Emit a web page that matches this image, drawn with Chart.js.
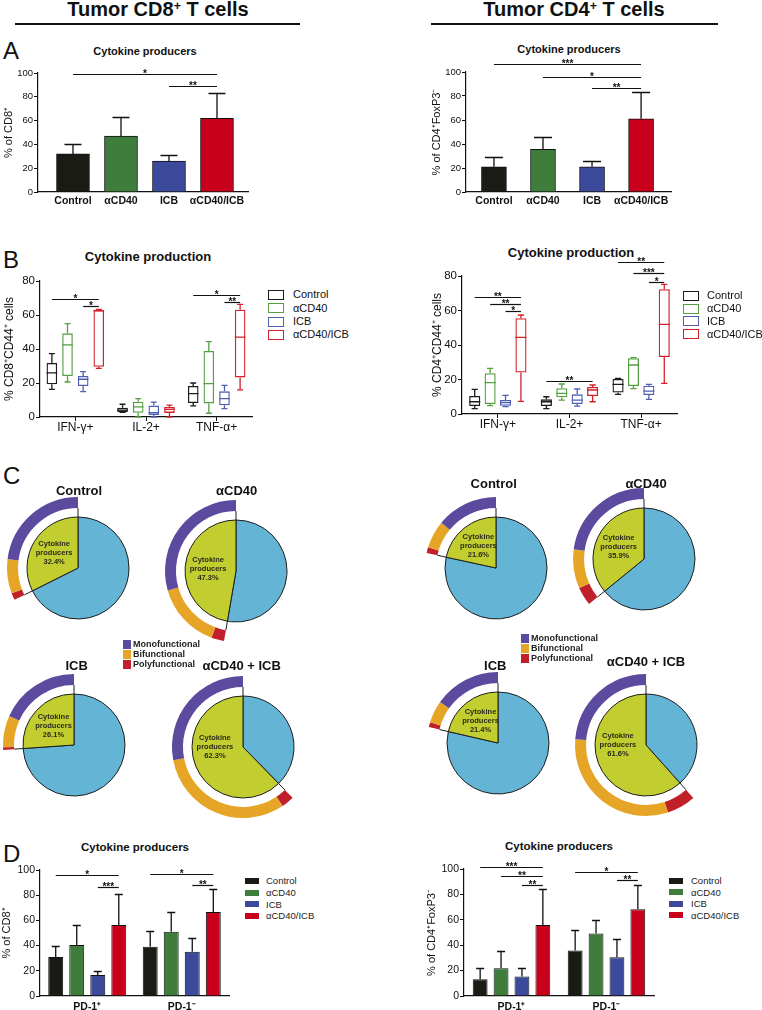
<!DOCTYPE html>
<html>
<head>
<meta charset="utf-8">
<title>Tumor CD8+ and CD4+ T cells - cytokine production</title>
<script src="https://cdn.jsdelivr.net/npm/chart.js@4.4.1/dist/chart.umd.min.js"></script>
<style>
  html, body { margin: 0; padding: 0; background: #fff; }
  body { font-family: "Liberation Sans", Arial, Helvetica, sans-serif; color: #111; }
  #page { position: relative; width: 762px; height: 1010px; overflow: hidden; }
  canvas { position: absolute; }
  .lbl { position: absolute; line-height: 1; white-space: nowrap; }
  .c { transform: translateX(-50%); }
  .b { font-weight: bold; }
  .rule { position: absolute; height: 2px; background: #111; }
  .legend { position: absolute; }
  .legend .row { display: flex; align-items: center; white-space: nowrap; }
  .sup { font-size: 0.62em; position: relative; top: -0.55em; }
</style>
</head>
<body>
<div id="page">
  <!-- column headers -->
  <div class="lbl c b" style="left:158px;top:-0.6px;font-size:20px">Tumor CD8<span class="sup">+</span> T cells</div>
  <div class="rule" style="left:15px;top:23px;width:285px"></div>
  <div class="lbl c b" style="left:574px;top:-0.6px;font-size:20px">Tumor CD4<span class="sup">+</span> T cells</div>
  <div class="rule" style="left:431px;top:23px;width:287px"></div>

  <!-- panel letters -->
  <div class="lbl" style="left:3px;top:38.6px;font-size:24px">A</div>
  <div class="lbl" style="left:3px;top:247.7px;font-size:24px">B</div>
  <div class="lbl" style="left:3px;top:463.7px;font-size:24px">C</div>
  <div class="lbl" style="left:3px;top:841.7px;font-size:24px">D</div>
</div>

<script>
// ---------------- data ----------------
const groups = ['Control', 'αCD40', 'ICB', 'αCD40/ICB'];
const cytokines = ['IFN-γ+', 'IL-2+', 'TNF-α+'];
const pdLabels = ['PD-1⁺', 'PD-1⁻'];
const pieNames = ['Control', 'αCD40', 'ICB', 'αCD40 + ICB'];
const funcNames = ['Monofunctional', 'Bifunctional', 'Polyfunctional'];

// A - cytokine producers (mean and top of SD bar)
const cd8ProdMean = [32, 47, 26, 62];
const cd8ProdErr = [40, 63, 31, 83];
const cd4ProdMean = [21, 35.5, 21, 61];
const cd4ProdErr = [29, 46, 26, 83.5];
// [from group, to group, height, stars]
const cd8ProdSig = [[0, 3, 99, '*'], [2, 3, 89, '**']];
const cd4ProdSig = [[0, 3, 107, '***'], [1, 3, 96, '*'], [2, 3, 87, '**']];

// B - box plots, per cytokine [min, q1, median, q3, max]
const cd8BoxControl = [[16.3, 19.2, 26, 31.8, 37.3], [2.7, 3, 4, 5.5, 7.5], [6.5, 8.2, 13.7, 18.2, 20]];
const cd8BoxCD40 = [[20.6, 24.1, 42.4, 49.2, 54.9], [0, 2.5, 5.9, 9, 10.8], [2.2, 8, 19.6, 38.8, 44.3]];
const cd8BoxICB = [[14.9, 18.2, 22.2, 24.1, 26.7], [0, 1.2, 2.5, 6.7, 8.8], [4.9, 6.9, 10.8, 15.1, 18.6]];
const cd8BoxCombo = [[28.6, 29.6, 62.5, 63, 63.3], [0, 2.4, 4.5, 5.9, 7], [15.9, 23.3, 47, 63.1, 66.3]];
const cd4BoxControl = [[3.1, 4.6, 7.1, 10.4, 14.3], [3.1, 4.6, 7.1, 8.5, 10], [11.4, 12.4, 17.2, 20.3, 20.7]];
const cd4BoxCD40 = [[4.8, 5.8, 18.2, 23.6, 26.5], [8.1, 9.7, 12, 14.9, 17.4], [14.7, 16.2, 28.4, 32.3, 32.7]];
const cd4BoxICB = [[4.3, 4.8, 6.6, 8.1, 10.8], [4.6, 5.8, 8.1, 11.4, 14.5], [8.5, 11, 13.3, 16.4, 17.2]];
const cd4BoxCombo = [[7.3, 24, 44.4, 55.5, 57.4], [7.1, 10.4, 13.9, 15.7, 16.8], [17.8, 33, 52, 72.3, 75.2]];
// [cytokine, from group, to group, height, stars]
const cd8BoxSig = [[0, 0, 3, 69.2, '*'], [0, 2, 3, 65.5, '*'], [2, 0, 3, 71.8, '*'], [2, 2, 3, 67.8, '**']];
const cd4BoxSig = [[0, 0, 3, 68, '**'], [0, 1, 3, 63.8, '**'], [0, 2, 3, 59.9, '*'], [1, 0, 3, 19.3, '**'],
                   [2, 0, 3, 88.3, '**'], [2, 1, 3, 81.5, '***'], [2, 2, 3, 76.7, '*']];

// C - % producers and their split (mono / bi / poly), order: Control, aCD40, ICB, aCD40+ICB
const cd8Producers = [32.4, 47.3, 26.1, 62.3];
const cd8Mono = [23.0, 29.4, 18.3, 28.0];
const cd8Bi = [7.8, 15.0, 7.2, 31.4];
const cd8Poly = [1.6, 2.9, 0.6, 2.9];
const cd4Producers = [21.6, 35.9, 21.4, 61.6];
const cd4Mono = [14.0, 22.8, 15.2, 23.7];
const cd4Bi = [6.3, 8.9, 5.1, 31.3];
const cd4Poly = [1.3, 4.2, 1.1, 6.6];

// D - producers split by PD-1 status [PD-1+, PD-1-]
const cd8PdControl = [31, 39], cd8PdCD40 = [40.5, 51], cd8PdICB = [16.7, 35.2], cd8PdCombo = [56.3, 66.7];
const cd8PdControlErr = [40, 51.6], cd8PdCD40Err = [56.3, 66.9], cd8PdICBErr = [19.8, 45.8], cd8PdComboErr = [81, 85];
const cd4PdControl = [13.2, 35.8], cd4PdCD40 = [21.8, 49.2], cd4PdICB = [15.3, 30.5], cd4PdCombo = [56, 68.4];
const cd4PdControlErr = [21.8, 51.6], cd4PdCD40Err = [35.5, 60], cd4PdICBErr = [22.4, 44.7], cd4PdComboErr = [84.2, 87.4];
const cd8PdSig = [[0, 0, 3, 96, '*'], [0, 2, 3, 86.8, '***'], [1, 0, 3, 96.6, '*'], [1, 2, 3, 87.8, '**']];
const cd4PdSig = [[0, 0, 3, 101.6, '***'], [0, 1, 3, 94.2, '**'], [0, 2, 3, 87.4, '**'], [1, 0, 3, 97.6, '*'], [1, 2, 3, 91, '**']];

// ---------------- styles ----------------
const FONT = '"Liberation Sans", Arial, Helvetica, sans-serif';
const fillColors = ['#1b1b15', '#3f7d3d', '#3c4a9c', '#c8001b'];
const boxColors = ['#1b1b1b', '#55a043', '#4f5fb3', '#d5202b'];
const pieColors = ['#64b4d6', '#c2cd2f'];          // non-producers, producers
const funcColors = ['#5b4a9e', '#e6a526', '#c11f29']; // mono, bi, poly

Chart.defaults.font.family = FONT;
Chart.defaults.color = '#111';
Chart.defaults.animation = false;

const page = document.getElementById('page');

function addCanvas(x, y, w, h) {
  const c = document.createElement('canvas');
  c.width = w; c.height = h;
  c.style.left = x + 'px'; c.style.top = y + 'px';
  page.appendChild(c);
  return c;
}

function addText(html, x, yMid, size, bold) {
  const d = document.createElement('div');
  d.className = 'lbl c' + (bold ? ' b' : '');
  d.style.left = x + 'px';
  d.style.top = (yMid - 0.49 * size) + 'px';
  d.style.fontSize = size + 'px';
  d.innerHTML = html;
  page.appendChild(d);
}

function addLegend(x, top, rowH, names, colors, st) {
  const wrap = document.createElement('div');
  wrap.className = 'legend';
  wrap.style.left = x + 'px'; wrap.style.top = top + 'px';
  names.forEach((n, i) => {
    const row = document.createElement('div');
    row.className = 'row';
    row.style.height = rowH + 'px';
    const sw = document.createElement('span');
    sw.style.cssText = 'display:inline-block;box-sizing:border-box;flex:none;width:' + st.w + 'px;height:' + st.h +
      'px;margin-right:' + st.gap + 'px;' +
      (st.outline ? 'border:1.6px solid ' + colors[i] + ';background:#fff' : 'background:' + colors[i]);
    const tx = document.createElement('span');
    tx.textContent = n;
    tx.style.cssText = 'line-height:1;color:' + st.color + ';font-size:' + st.size + 'px;font-weight:' + (st.bold ? 'bold' : 'normal');
    row.appendChild(sw); row.appendChild(tx);
    wrap.appendChild(row);
  });
  page.appendChild(wrap);
}

// ---------------- plugins ----------------
// significance brackets: [dsFrom, idxFrom, dsTo, idxTo, height, stars]
function sigPlugin(lines) {
  return {
    id: 'sig',
    afterDatasetsDraw(chart) {
      const ctx = chart.ctx, y = chart.scales.y;
      lines.forEach(s => {
        const x1 = chart.getDatasetMeta(s[0]).data[s[1]].x;
        const x2 = chart.getDatasetMeta(s[2]).data[s[3]].x;
        const py = Math.round(y.getPixelForValue(s[4])) + 0.5;
        ctx.save();
        ctx.strokeStyle = '#111';
        ctx.lineWidth = 1.2;
        ctx.beginPath(); ctx.moveTo(x1, py); ctx.lineTo(x2, py); ctx.stroke();
        ctx.fillStyle = '#111';
        ctx.font = 'bold 10px ' + FONT;
        ctx.textAlign = 'center';
        ctx.textBaseline = 'alphabetic';
        ctx.fillText(s[5], (x1 + x2) / 2, py + 2);
        ctx.restore();
      });
    }
  };
}

// upper SD bars, read from dataset.errTop
function errorBarPlugin(cap) {
  return {
    id: 'errBars',
    afterDatasetsDraw(chart) {
      const ctx = chart.ctx, y = chart.scales.y;
      chart.data.datasets.forEach((ds, d) => {
        if (!ds.errTop) return;
        chart.getDatasetMeta(d).data.forEach((bar, i) => {
          const top = Math.round(y.getPixelForValue(ds.errTop[i])) + 0.5;
          ctx.save();
          ctx.strokeStyle = '#111';
          ctx.lineWidth = 1.3;
          ctx.beginPath();
          ctx.moveTo(bar.x, bar.y); ctx.lineTo(bar.x, top);
          ctx.moveTo(bar.x - cap / 2, top); ctx.lineTo(bar.x + cap / 2, top);
          ctx.stroke();
          ctx.restore();
        });
      });
    }
  };
}

// whiskers + median for the floating-bar boxes, read from dataset.stats
const whiskerPlugin = {
  id: 'whiskers',
  afterDatasetsDraw(chart) {
    const ctx = chart.ctx, y = chart.scales.y;
    chart.data.datasets.forEach((ds, d) => {
      chart.getDatasetMeta(d).data.forEach((bar, i) => {
        const st = ds.stats[i];
        const half = bar.width / 2, cap = bar.width * 0.28;
        const pMin = y.getPixelForValue(st[0]), pQ1 = y.getPixelForValue(st[1]);
        const pMed = y.getPixelForValue(st[2]), pQ3 = y.getPixelForValue(st[3]);
        const pMax = y.getPixelForValue(st[4]);
        ctx.save();
        ctx.strokeStyle = ds.borderColor;
        ctx.lineWidth = 1.3;
        ctx.beginPath();
        ctx.moveTo(bar.x - half, pMed); ctx.lineTo(bar.x + half, pMed);
        ctx.moveTo(bar.x, pQ3); ctx.lineTo(bar.x, pMax);
        ctx.moveTo(bar.x - cap, pMax); ctx.lineTo(bar.x + cap, pMax);
        ctx.moveTo(bar.x, pQ1); ctx.lineTo(bar.x, pMin);
        ctx.moveTo(bar.x - cap, pMin); ctx.lineTo(bar.x + cap, pMin);
        ctx.stroke();
        ctx.restore();
      });
    });
  }
};

// divider lines through the gap and the "Cytokine producers" label
function pieExtras(prod) {
  return {
    id: 'pieExtras',
    afterDatasetsDraw(chart) {
      const ctx = chart.ctx;
      const green = chart.getDatasetMeta(2).data[1];
      const reach = chart.getDatasetMeta(0).data[0].innerRadius;
      const {x, y, startAngle, endAngle, outerRadius} = green;
      ctx.save();
      ctx.strokeStyle = '#1d1d1d';
      ctx.lineWidth = 1;
      ctx.beginPath();
      [startAngle, endAngle].forEach(a => {
        ctx.moveTo(x + outerRadius * Math.cos(a), y + outerRadius * Math.sin(a));
        ctx.lineTo(x + reach * Math.cos(a), y + reach * Math.sin(a));
      });
      ctx.stroke();
      const mid = Math.max((startAngle + endAngle) / 2, Math.PI);
      const lx = x + outerRadius * 0.55 * Math.cos(mid);
      const ly = y + outerRadius * 0.55 * Math.sin(mid);
      ctx.fillStyle = '#2b2b1c';
      ctx.font = 'bold 7.5px ' + FONT;
      ctx.textAlign = 'center';
      ctx.textBaseline = 'middle';
      ['Cytokine', 'producers', prod.toFixed(1) + '%'].forEach((t, k) => ctx.fillText(t, lx, ly + (k - 1) * 9));
      ctx.restore();
    }
  };
}

// ---------------- builders ----------------
function yScale(max, title, width, tickSize, titleSize, titlePad) {
  return {
    min: 0, max: max,
    afterFit: s => { s.width = width; },
    ticks: { stepSize: 20, color: '#111', font: { size: tickSize }, padding: 1 },
    grid: { drawOnChartArea: false, drawTicks: true, tickLength: 4, color: '#111', lineWidth: 1 },
    border: { color: '#111', width: 1.2 },
    title: { display: true, text: title, color: '#111', font: { size: titleSize }, padding: { top: titlePad, bottom: 0 } }
  };
}

// panel A
function producerChart(box, means, errs, sig, o) {
  const cv = addCanvas(box[0], box[1], box[2], box[3]);
  new Chart(cv, {
    type: 'bar',
    data: {
      datasets: [{
        data: means.map((v, i) => ({ x: i + 1, y: v })),
        errTop: errs,
        backgroundColor: fillColors,
        borderColor: '#111',
        borderWidth: 1,
        barThickness: o.barW
      }]
    },
    options: {
      responsive: false, events: [],
      layout: { padding: o.pad },
      scales: {
        x: {
          type: 'linear', min: o.xmin, max: o.xmax, offset: false, bounds: 'data',
          afterBuildTicks: s => { s.ticks = groups.map((g, i) => ({ value: i + 1 })); },
          afterFit: s => { s.height = 18; },
          ticks: { autoSkip: false, maxRotation: 0, padding: 3, color: '#111',
                   font: { size: 10.5, weight: 'bold' }, callback: v => groups[v - 1] },
          grid: { display: false, drawTicks: false, tickLength: 0 },
          border: { color: '#111', width: 1.2 }
        },
        y: yScale(100, o.yTitle, o.yw, 9.5, 11, 2)
      },
      plugins: { legend: { display: false }, tooltip: { enabled: false } }
    },
    plugins: [errorBarPlugin(o.cap), sigPlugin(sig.map(s => [0, s[0], 0, s[1], s[2], s[3]]))]
  });
}

// panel B
function boxChart(box, stats, sig, o) {
  const cv = addCanvas(box[0], box[1], box[2], box[3]);
  new Chart(cv, {
    type: 'bar',
    data: {
      labels: cytokines,
      datasets: groups.map((g, gi) => ({
        label: g,
        data: stats[gi].map(s => [s[1], s[3]]),
        stats: stats[gi],
        backgroundColor: 'rgba(255,255,255,0)',
        borderColor: boxColors[gi],
        borderWidth: 1.3,
        borderSkipped: false,
        categoryPercentage: o.catPct,
        barPercentage: o.barPct
      }))
    },
    options: {
      responsive: false, events: [],
      layout: { padding: o.pad },
      scales: {
        x: {
          offset: true,
          afterFit: s => { s.height = 20; },
          ticks: { color: '#111', font: { size: 12 }, padding: -1, maxRotation: 0, autoSkip: false },
          grid: { offset: false, drawOnChartArea: false, tickLength: 4, color: '#111' },
          border: { color: '#111', width: 1.2 }
        },
        y: yScale(80, o.yTitle, o.yw, 11.5, 12, 2)
      },
      plugins: { legend: { display: false }, tooltip: { enabled: false } }
    },
    plugins: [whiskerPlugin, sigPlugin(sig.map(s => [s[1], s[0], s[2], s[0], s[3], s[4]]))]
  });
}

// panel D
function pdChart(box, means, errs, sig, o) {
  const cv = addCanvas(box[0], box[1], box[2], box[3]);
  new Chart(cv, {
    type: 'bar',
    data: {
      labels: pdLabels,
      datasets: groups.map((g, gi) => ({
        label: g,
        data: means[gi],
        errTop: errs[gi],
        backgroundColor: fillColors[gi],
        borderColor: '#111',
        borderWidth: 1,
        categoryPercentage: o.catPct,
        barPercentage: o.barPct
      }))
    },
    options: {
      responsive: false, events: [],
      layout: { padding: o.pad },
      scales: {
        x: {
          offset: true,
          afterFit: s => { s.height = 14; },
          ticks: { color: '#111', font: { size: 10.5, weight: 'bold' }, padding: 4.5, maxRotation: 0 },
          grid: { display: false, drawTicks: false, tickLength: 0 },
          border: { color: '#111', width: 1.2 }
        },
        y: yScale(100, o.yTitle, o.yw, 10.5, 11, 0)
      },
      plugins: { legend: { display: false }, tooltip: { enabled: false } }
    },
    plugins: [errorBarPlugin(8), sigPlugin(sig.map(s => [s[1], s[0], s[2], s[0], s[3], s[4]]))]
  });
}

// panel C
function pieChart(cx, cy, prod, mono, bi, poly) {
  const cv = addCanvas(cx - 80, cy - 80, 160, 160);
  new Chart(cv, {
    type: 'doughnut',
    data: {
      datasets: [
        { data: [100 - prod, poly, bi, mono], backgroundColor: ['rgba(0,0,0,0)', funcColors[2], funcColors[1], funcColors[0]],
          borderWidth: 0, weight: 11 },
        { data: [1], backgroundColor: 'rgba(0,0,0,0)', borderWidth: 0, weight: 9 },
        { data: [100 - prod, prod], backgroundColor: pieColors, borderColor: '#1d1d1d', borderWidth: 1, weight: 51 }
      ]
    },
    options: {
      responsive: false, events: [],
      radius: 71, cutout: 0, rotation: 0,
      plugins: { legend: { display: false }, tooltip: { enabled: false } }
    },
    plugins: [pieExtras(prod)]
  });
}

// ---------------- panel A ----------------
addText('Cytokine producers', 145, 51.3, 11, true);
addText('Cytokine producers', 569, 49.7, 11, true);
producerChart([0, 55, 260, 155], cd8ProdMean, cd8ProdErr, cd8ProdSig,
  { yTitle: '% of CD8⁺', yw: 38, pad: { left: 0, right: 12, top: 18, bottom: 0 },
    xmin: 0.271, xmax: 4.646, barW: 33, cap: 17 });
producerChart([428, 50, 252, 160], cd4ProdMean, cd4ProdErr, cd4ProdSig,
  { yTitle: '% of CD4⁺FoxP3⁻', yw: 38, pad: { left: 0, right: 9, top: 22, bottom: 0 },
    xmin: 0.43, xmax: 4.61, barW: 25, cap: 18 });

// ---------------- panel B ----------------
addText('Cytokine production', 148, 256.7, 13, true);
addText('Cytokine production', 571, 252.7, 13, true);
boxChart([0, 262, 256, 175], [cd8BoxControl, cd8BoxCD40, cd8BoxICB, cd8BoxCombo], cd8BoxSig,
  { yTitle: '% CD8⁺CD44⁺ cells', yw: 40, pad: { left: 0, right: 4, top: 19, bottom: 0 }, catPct: 0.885, barPct: 0.68 });
boxChart([428, 240, 257, 194], [cd4BoxControl, cd4BoxCD40, cd4BoxICB, cd4BoxCombo], cd4BoxSig,
  { yTitle: '% CD4⁺CD44⁺ cells', yw: 34, pad: { left: 0, right: 8, top: 36, bottom: 0 }, catPct: 0.86, barPct: 0.72 });
addLegend(268, 288.3, 13.3, groups, boxColors, { w: 16, h: 10, gap: 9, outline: true, size: 11, color: '#111' });
addLegend(683, 289.5, 12.8, groups, boxColors, { w: 16, h: 10, gap: 8, outline: true, size: 11, color: '#111' });

// ---------------- panel C ----------------
const cd8Centers = [[78, 568], [236, 571], [74, 745], [243, 747]];
const cd4Centers = [[496, 568], [644, 559], [498, 743], [646, 745]];
const cd8TitlePos = [[79, 490], [236.7, 490], [76.7, 665], [241.7, 665]];
const cd4TitlePos = [[493.7, 483.7], [646, 483], [495.3, 665.3], [646, 661.7]];
pieNames.forEach((n, i) => {
  pieChart(cd8Centers[i][0], cd8Centers[i][1], cd8Producers[i], cd8Mono[i], cd8Bi[i], cd8Poly[i]);
  pieChart(cd4Centers[i][0], cd4Centers[i][1], cd4Producers[i], cd4Mono[i], cd4Bi[i], cd4Poly[i]);
  addText(n, cd8TitlePos[i][0], cd8TitlePos[i][1], 13, true);
  addText(n, cd4TitlePos[i][0], cd4TitlePos[i][1], 13, true);
});
addLegend(123, 639, 10, funcNames, funcColors, { w: 8, h: 9, gap: 2, outline: false, size: 9, bold: true, color: '#222' });
addLegend(521, 633, 10, funcNames, funcColors, { w: 8, h: 9, gap: 2, outline: false, size: 9, bold: true, color: '#222' });

// ---------------- panel D ----------------
addText('Cytokine producers', 135, 847.2, 11.5, true);
addText('Cytokine producers', 559, 846.2, 11.5, true);
pdChart([0, 850, 240, 160], [cd8PdControl, cd8PdCD40, cd8PdICB, cd8PdCombo],
  [cd8PdControlErr, cd8PdCD40Err, cd8PdICBErr, cd8PdComboErr], cd8PdSig,
  { yTitle: '% of CD8⁺', yw: 40, pad: { left: 0, right: 11, top: 20, bottom: 0 }, catPct: 0.89, barPct: 0.71 });
pdChart([425, 845, 240, 165], [cd4PdControl, cd4PdCD40, cd4PdICB, cd4PdCombo],
  [cd4PdControlErr, cd4PdCD40Err, cd4PdICBErr, cd4PdComboErr], cd4PdSig,
  { yTitle: '% of CD4⁺FoxP3⁻', yw: 39, pad: { left: 0, right: 11, top: 24, bottom: 0 }, catPct: 0.88, barPct: 0.71 });
addLegend(245, 875.2, 11.7, groups, fillColors, { w: 14, h: 6, gap: 7, outline: false, size: 9.5, color: '#222' });
addLegend(669, 875, 11.55, groups, fillColors, { w: 14, h: 6, gap: 8, outline: false, size: 9.5, color: '#222' });
</script>
</body>
</html>
